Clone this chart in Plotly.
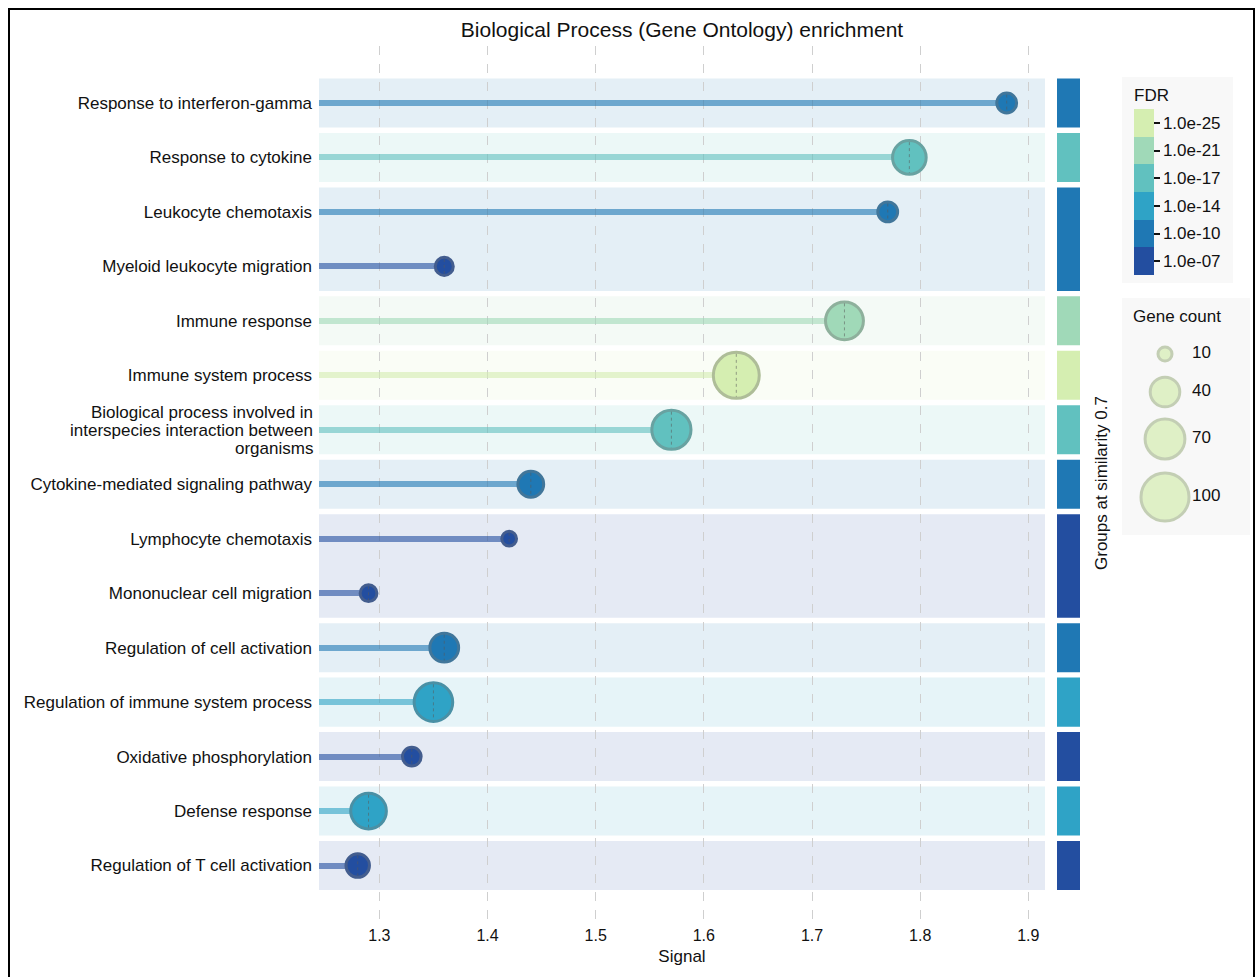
import numpy as np
import plotly.graph_objects as go

# ---------------- data ----------------
terms = [
    "Response to interferon-gamma",
    "Response to cytokine",
    "Leukocyte chemotaxis",
    "Myeloid leukocyte migration",
    "Immune response",
    "Immune system process",
    "Biological process involved in<br>interspecies interaction between<br>organisms",
    "Cytokine-mediated signaling pathway",
    "Lymphocyte chemotaxis",
    "Mononuclear cell migration",
    "Regulation of cell activation",
    "Regulation of immune system process",
    "Oxidative phosphorylation",
    "Defense response",
    "Regulation of T cell activation",
]
signal = [1.88, 1.79, 1.77, 1.36, 1.73, 1.63, 1.57, 1.44, 1.42, 1.29, 1.36, 1.35, 1.33, 1.29, 1.28]
fdr = [1e-10, 1e-17, 1e-10, 1e-07, 1e-21, 1e-25, 1e-17, 1e-10, 1e-07, 1e-07,
       1e-10, 1e-14, 1e-07, 1e-14, 1e-07]
gene_count = [19, 51, 19, 16, 64, 92, 68, 31, 11, 14, 38, 66, 17, 57, 26]
group = [1, 2, 3, 3, 4, 5, 6, 7, 8, 8, 9, 10, 11, 12, 13]

fdr_levels = [1e-25, 1e-21, 1e-17, 1e-14, 1e-10, 1e-07]
fdr_labels = ["1.0e-25", "1.0e-21", "1.0e-17", "1.0e-14", "1.0e-10", "1.0e-07"]
fdr_colors = ["#d5eeb1", "#a0d9b8", "#61c1bf", "#2fa3c6", "#1f78b4", "#234ea0"]

legend_counts = [10, 40, 70, 100]
x_ticks = [1.3, 1.4, 1.5, 1.6, 1.7, 1.8, 1.9]

# ---------------- layout geometry (px) ----------------
W, H = 1257, 977
ML, MR, MT, MB = 319, 7, 46, 57
PW, PH = W - ML - MR, H - MT - MB
MAIN_RIGHT = 1045
X_RANGE = [1.2442, 1.9154]
Y_RANGE = [15.0, -1.046]
ROW_PX = PH / (Y_RANGE[0] - Y_RANGE[1])
LW = 3
FONT = "Liberation Sans, Arial, sans-serif"
TXT = "#111"
LABEL_SIZE = 17


def px_x(p):
    return (p - ML) / PW


def px_y(p):
    return (H - MB - p) / PH


def hex_rgb(h):
    h = h.lstrip("#")
    return np.array([int(h[i:i + 2], 16) for i in (0, 2, 4)], dtype=float)


def mix(h, other, t):
    c = hex_rgb(h) * t + np.array(other, dtype=float) * (1 - t)
    return "rgb(%d,%d,%d)" % tuple(np.round(c).astype(int))


def outer_diam(n):
    return np.sqrt(25.7 * np.asarray(n, dtype=float) + 32)


def color_index(v):
    lv = np.log10(v)
    return int(np.argmin([abs(lv - np.log10(l)) for l in fdr_levels]))


rows = list(range(len(terms)))
cidx = [color_index(v) for v in fdr]
fill = [fdr_colors[i] for i in cidx]
border = [mix(c, (115, 115, 115), 0.6) for c in fill]
diam = outer_diam(gene_count)

# multi-line term names are written line by line with a tighter leading
tick_text = [t if "<br>" not in t else "" for t in terms]
multi_line = [(r, t.split("<br>")) for r, t in zip(rows, terms) if "<br>" in t]

fig = go.Figure()

# stems
fig.add_trace(go.Bar(
    y=rows, x=[s - X_RANGE[0] for s in signal], base=X_RANGE[0],
    orientation="h", width=6 / ROW_PX,
    marker=dict(color=fill, line=dict(width=0)), opacity=0.6,
    hoverinfo="skip", showlegend=False,
))

# lollipop heads
fig.add_trace(go.Scatter(
    x=signal, y=rows, mode="markers",
    marker=dict(size=diam - LW, color=fill, opacity=1,
                line=dict(color=border, width=LW)),
    customdata=np.stack([gene_count, fdr], axis=1),
    hovertemplate="Signal %{x}<br>Genes %{customdata[0]}<br>FDR %{customdata[1]:.1e}<extra></extra>",
    showlegend=False,
))

# FDR colour scale (discrete)
n = len(fdr_colors)
cs = []
for k, c in enumerate(fdr_colors[::-1]):
    cs.append([k / n, c])
    cs.append([(k + 1) / n, c])
fig.add_trace(go.Scatter(
    x=[None], y=[None], mode="markers",
    marker=dict(
        color=[0], cmin=-0.5, cmax=n - 0.5, colorscale=cs, showscale=True,
        colorbar=dict(
            title=dict(text="FDR", side="top", font=dict(size=LABEL_SIZE, color=TXT, family=FONT)),
            tickvals=list(range(n)), ticktext=fdr_labels[::-1],
            ticks="outside", ticklen=6, tickwidth=1.5, tickcolor=TXT,
            tickfont=dict(size=LABEL_SIZE, color=TXT, family=FONT),
            thickness=20, lenmode="pixels", len=206,
            x=px_x(1122), xanchor="left", xpad=12,
            y=px_y(77), yanchor="top", ypad=8,
            outlinewidth=0, bgcolor="#f8f8f8",
        ),
    ),
    hoverinfo="skip", showlegend=False,
))

# gene count legend (own axes, px offsets inside the legend box)
leg_y = [56, 94, 141, 199]
leg_d = outer_diam(legend_counts)
fig.add_trace(go.Scatter(
    x=[43] * len(legend_counts), y=leg_y, mode="markers",
    marker=dict(size=leg_d - LW, color=fdr_colors[0],
                line=dict(color=mix(fdr_colors[0], (115, 115, 115), 0.6), width=LW)),
    xaxis="x3", yaxis="y3", hoverinfo="skip", showlegend=False,
))
fig.add_trace(go.Scatter(
    x=[70] * len(legend_counts), y=leg_y, mode="text",
    text=[str(c) for c in legend_counts], textposition="middle right",
    textfont=dict(size=LABEL_SIZE, color=TXT, family=FONT),
    xaxis="x3", yaxis="y3", hoverinfo="skip", showlegend=False,
))

shapes = []
# group bands and group colour bars
groups = []
for g in sorted(set(group)):
    members = [i for i in rows if group[i] == g]
    best = min(members, key=lambda i: fdr[i])
    groups.append((members[0], members[-1], fill[best]))
for first, last, col in groups:
    shapes.append(dict(type="rect", layer="below", xref="x domain", yref="y",
                       x0=0, x1=1, y0=first - 0.45, y1=last + 0.45,
                       fillcolor=mix(col, (255, 255, 255), 0.12), line=dict(width=0)))
    shapes.append(dict(type="rect", layer="above", xref="paper", yref="y",
                       x0=px_x(1057), x1=px_x(1080), y0=first - 0.45, y1=last + 0.45,
                       fillcolor=col, line=dict(width=0)))

# dashed centre marks through each head
for s, r, d in zip(signal, rows, diam):
    h = (d / 2 - LW) / ROW_PX
    shapes.append(dict(type="line", xref="x", yref="y", x0=s, x1=s, y0=r - h, y1=r + h,
                       line=dict(color="rgba(90,90,90,0.55)", width=1, dash="3px,3px")))

# gene count legend box
shapes.append(dict(type="rect", layer="below", xref="paper", yref="paper",
                   x0=px_x(1122), x1=px_x(1250), y0=px_y(535), y1=px_y(298),
                   fillcolor="#f8f8f8", line=dict(width=0)))
# outer frame
shapes.append(dict(type="rect", xref="paper", yref="paper",
                   x0=px_x(9), x1=px_x(1254), y0=px_y(1000), y1=px_y(9),
                   fillcolor="rgba(0,0,0,0)", line=dict(color="#000", width=2)))

annotations = [
    dict(text="Groups at similarity 0.7", xref="paper", yref="paper",
         x=px_x(1101), y=px_y(483), xanchor="center", yanchor="middle",
         textangle=-90, showarrow=False, font=dict(size=LABEL_SIZE, color=TXT)),
    dict(text="Gene count", xref="paper", yref="paper",
         x=px_x(1177), y=px_y(317), xanchor="center", yanchor="middle",
         showarrow=False, font=dict(size=LABEL_SIZE, color=TXT)),
]
for r, lines in multi_line:
    k = len(lines)
    for j, line in enumerate(lines):
        annotations.append(dict(
            text=line, xref="paper", yref="y", x=px_x(315), y=r,
            yshift=-(j - (k - 1) / 2) * 18 - 1, xanchor="right", yanchor="middle",
            showarrow=False, font=dict(size=LABEL_SIZE, color=TXT)))

fig.update_layout(
    width=W, height=H,
    margin=dict(l=ML, r=MR, t=MT, b=MB),
    paper_bgcolor="white", plot_bgcolor="white",
    font=dict(family=FONT, color=TXT),
    title=dict(text="Biological Process (Gene Ontology) enrichment",
               x=px_x((ML + MAIN_RIGHT) / 2), xref="paper", xanchor="center",
               y=1 - 30 / H, yanchor="middle", font=dict(size=21, color=TXT)),
    xaxis=dict(domain=[0, px_x(MAIN_RIGHT)], range=X_RANGE, tickvals=x_ticks,
               ticktext=["%.1f" % t for t in x_ticks],
               showgrid=True, gridcolor="#cfcfcf", griddash="dash", gridwidth=1,
               zeroline=False, showline=False, ticks="", ticklabelstandoff=4,
               tickfont=dict(size=16, color=TXT),
               title=dict(text="Signal", font=dict(size=LABEL_SIZE, color=TXT), standoff=7)),
    yaxis=dict(domain=[0, 1], range=Y_RANGE, tickvals=rows, ticktext=tick_text,
               showgrid=False, zeroline=False, showline=False, ticks="",
               ticklabelstandoff=6,
               tickfont=dict(size=LABEL_SIZE, color=TXT)),
    xaxis3=dict(domain=[px_x(1122), px_x(1250)], range=[0, 128], visible=False, fixedrange=True),
    yaxis3=dict(domain=[px_y(535), px_y(298)], range=[237, 0], visible=False,
                anchor="x3", fixedrange=True),
    shapes=shapes,
    annotations=annotations,
    bargap=0,
)

fig.write_html("out.html")
